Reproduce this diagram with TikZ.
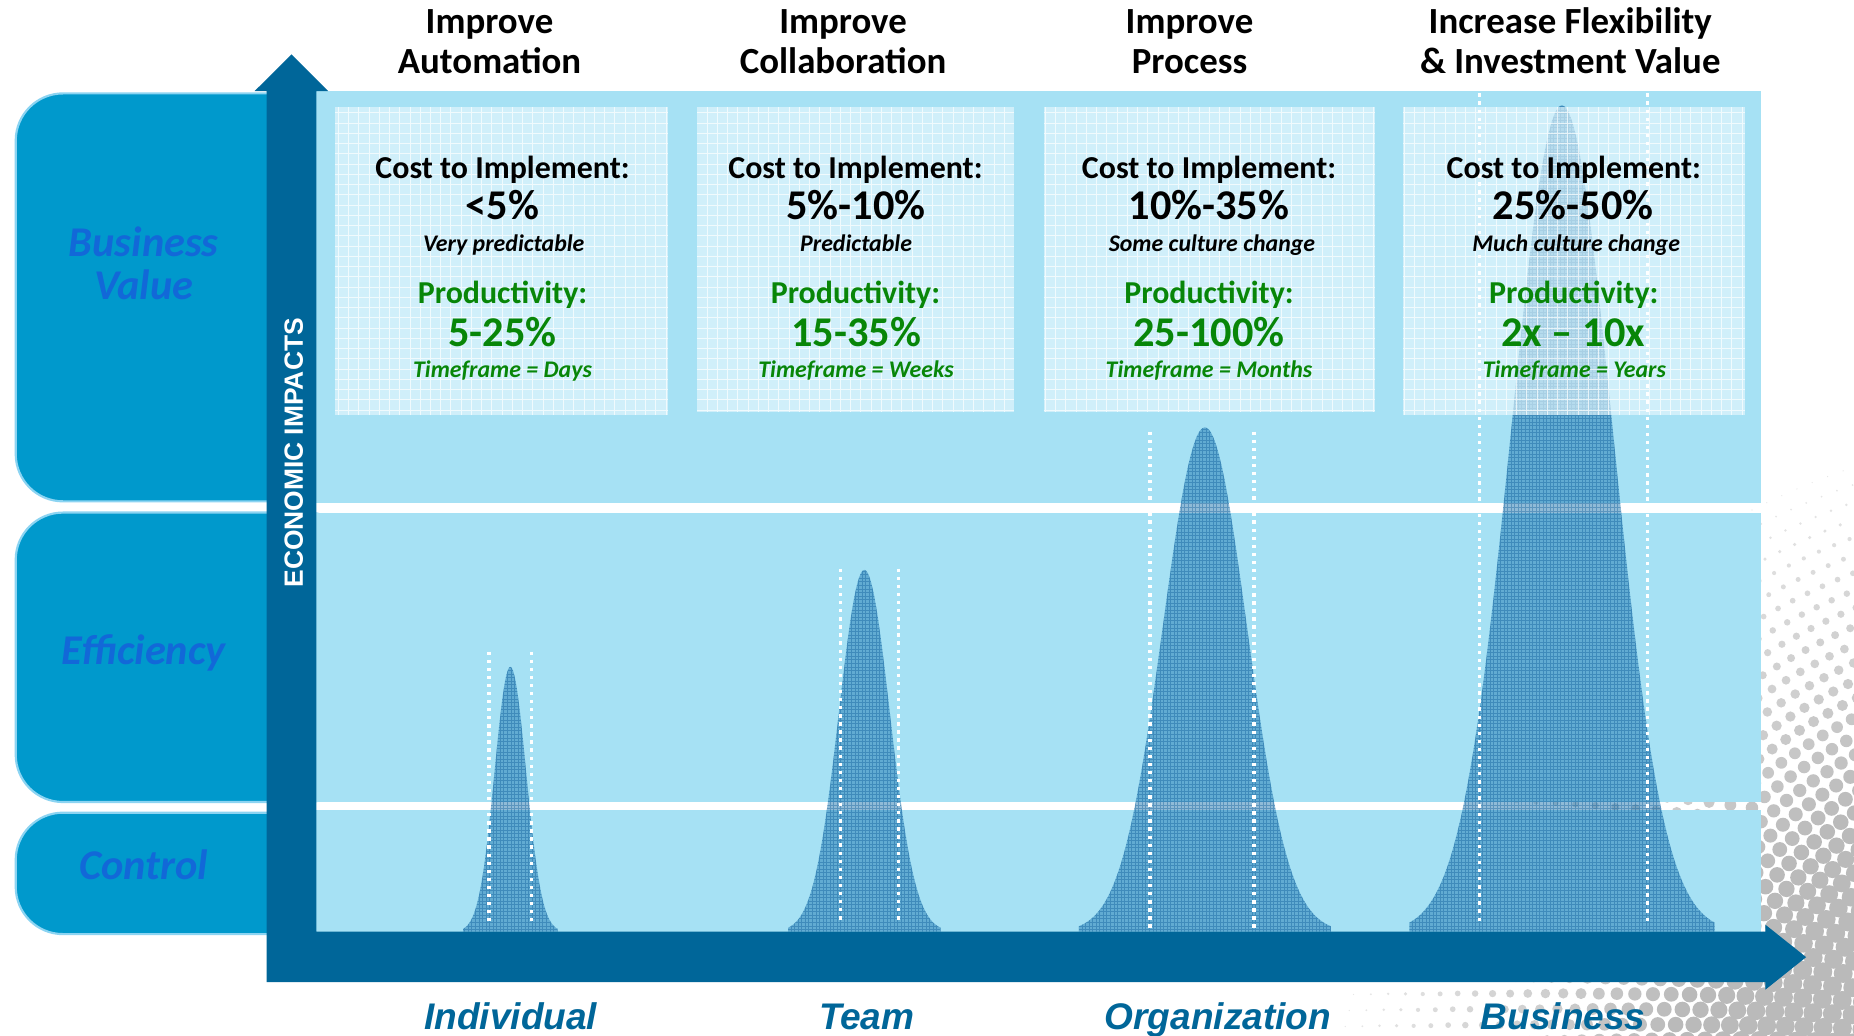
\documentclass[tikz,border=0pt]{standalone}
\usepackage{fontspec}
\setmainfont{Carlito}
\newfontfamily\arialf{Liberation Sans}
\definecolor{axisblue}{RGB}{0,102,153}
\definecolor{panelblue}{RGB}{166,225,244}
\definecolor{boxblue}{RGB}{0,153,204}
\definecolor{boxedge}{RGB}{140,212,242}
\definecolor{labelblue}{RGB}{18,104,216}
\definecolor{cardfill}{RGB}{234,249,254}
\definecolor{peakfill}{RGB}{20,112,172}
\definecolor{peakgrid}{RGB}{8,88,150}
\definecolor{prodgreen}{RGB}{8,134,8}
\newcommand\peakpath[3]{(#1-3*#2,788) -- plot[domain=-3:3,samples=91] ({#1+(\x)*#2},{788-#3*exp(-0.5*(\x)*(\x))}) -- (#1+3*#2,788) -- cycle}
\tikzset{
  leftbox/.style={fill=boxblue,draw=boxedge,line width=1.1pt,rounded corners=24pt},
  band/.style={fill=panelblue},
  cardbg/.style={fill=cardfill,fill opacity=0.62},
  cardgrid/.style={draw=white,line width=0.4pt,opacity=0.7,step=5.2pt},
  dotline/.style={draw=white,line width=1.7pt,dash pattern=on 1.7pt off 2.4pt},
  txt/.style={anchor=base,inner sep=0pt},
  hdr/.style={txt,font=\fontsize{18.7}{20}\selectfont\bfseries},
  cost/.style={txt,font=\fontsize{16.2}{18}\selectfont\bfseries},
  pct/.style={txt,font=\fontsize{21.5}{24}\selectfont\bfseries},
  note/.style={txt,font=\fontsize{12.1}{14}\selectfont\bfseries\itshape},
  prod/.style={cost,text=prodgreen},
  prodval/.style={pct,text=prodgreen},
  tframe/.style={note,text=prodgreen},
  sidelbl/.style={txt,font=\fontsize{21.5}{24}\selectfont\bfseries\itshape,text=labelblue},
  axlbl/.style={txt,font=\arialf\fontsize{18.8}{22}\selectfont\bfseries\itshape,text=axisblue},
}
\begin{document}
\begin{tikzpicture}[x=0.6pt,y=-0.6pt]
\useasboundingbox (0,0) rectangle (1568,876);
\clip (0,0) rectangle (1568,876);
\fill[white] (0,0) rectangle (1568,876);
% halftone dots
\foreach \k in {0,...,30}{
  \pgfmathsetmacro\rr{660-14*\k}
  \pgfmathsetmacro\dd{min(8,0.5+0.32*\k)}
  \pgfmathtruncatemacro\gg{min(27,10+0.9*\k)}
  \pgfmathtruncatemacro\nn{\rr*1.45/14}
  \pgfmathsetmacro\da{14/\rr*57.2958}
  \pgfmathsetmacro\off{mod(\k,2)*0.5}
  \foreach \j in {0,...,\nn}{
    \fill[black!\gg] ({1780+\rr*cos(95+(\j+\off)*\da)},{1020-\rr*sin(95+(\j+\off)*\da)}) circle[radius=\dd];
  }
}
% left boxes
\draw[leftbox] (13.3,79) rectangle (300,424);
\draw[leftbox] (13.3,433.5) rectangle (300,678.3);
\draw[leftbox] (13.3,687.3) rectangle (300,790);
% bands
\fill[band] (250,76.7) rectangle (1489.6,425.8);
\fill[band] (250,433.6) rectangle (1489.6,678.5);
\fill[band] (250,685.4) rectangle (1489.6,788);
% peaks
\foreach \c/\s/\h in {431.6/13.3/224, 731/21.5/306, 1019/35.5/426.6, 1321/43/699}{
  \begin{scope}
    \clip \peakpath{\c}{\s}{\h};
    \fill[peakfill,fill opacity=0.47] (\c-3*\s-5,60) rectangle (\c+3*\s+5,790);
    \draw[peakgrid,line width=0.3pt,opacity=0.38,xstep=1.8pt,ystep=1.8pt] (\c-3*\s-5,60) grid (\c+3*\s+5,790);
  \end{scope}
}
% cards
\foreach \xa/\ya/\xb/\yb in {283.7/90.8/565.3/351, 589.5/90.8/857.9/348.8, 882.6/90.8/1162.6/348.3, 1186.6/90.8/1475.5/351}{
  \fill[cardbg] (\xa,\ya) rectangle (\xb,\yb);
  \draw[cardgrid] (\xa,\ya) grid (\xb,\yb);
}
% dotted guide lines
\draw[dotline] (413.6,551) -- (413.6,782);
\draw[dotline] (449.7,551) -- (449.7,782);
\draw[dotline] (711,481) -- (711,781);
\draw[dotline] (760,481) -- (760,781);
\draw[dotline] (972.5,365) -- (972.5,786);
\draw[dotline] (1060.5,365) -- (1060.5,786);
\draw[dotline] (1251,79) -- (1251,779);
\draw[dotline] (1393.5,79) -- (1393.5,779);
% axes
\fill[axisblue] (246.5,46) -- (277.6,77) -- (267.5,77) -- (267.5,788) -- (1493,788) -- (1493,782) -- (1527.5,809.5) -- (1493,837) -- (1493,830.7) -- (225.4,830.7) -- (225.4,77) -- (215.4,77) -- cycle;
\node[rotate=90,inner sep=0pt,font=\arialf\fontsize{13.4}{16}\selectfont\bfseries,text=white] (econ) at (248.5,383) {ECONOMIC IMPACTS};
% side labels
\node[sidelbl] (bv1) at (121.5,217) {Business};
\node[sidelbl] (bv2) at (121.5,253.7) {Value};
\node[sidelbl] (eff) at (121.5,562) {Efficiency};
\node[sidelbl] (ctl) at (121.5,743.4) {Control};
% headers
\node[hdr] (h1a) at (414,28.5) {Improve};
\node[hdr] (h1b) at (414,62.5) {Automation};
\node[hdr] (h2a) at (713,28.5) {Improve};
\node[hdr] (h2b) at (713,62.5) {Collaboration};
\node[hdr] (h3a) at (1006,28.5) {Improve};
\node[hdr] (h3b) at (1006,62.5) {Process};
\node[hdr] (h4a) at (1328,28.5) {Increase Flexibility};
\node[hdr] (h4b) at (1328,62.5) {\& Investment Value};
% card texts
\node[cost] (c1a) at (425,150.8) {Cost to Implement:};
\node[pct] (c1b) at (425,186) {<5\%};
\node[note] (c1c) at (426,212.8) {Very predictable};
\node[prod] (c1d) at (425,257.1) {Productivity:};
\node[prodval] (c1e) at (425,293.2) {5-25\%};
\node[tframe] (c1f) at (425,319.4) {Timeframe = Days};
\node[cost] (c2a) at (723.5,150.8) {Cost to Implement:};
\node[pct] (c2b) at (724,186) {5\%-10\%};
\node[note] (c2c) at (724,212.8) {Predictable};
\node[prod] (c2d) at (723.5,257.1) {Productivity:};
\node[prodval] (c2e) at (724,293.2) {15-35\%};
\node[tframe] (c2f) at (724,319.4) {Timeframe = Weeks};
\node[cost] (c3a) at (1022.5,150.8) {Cost to Implement:};
\node[pct] (c3b) at (1022.5,186) {10\%-35\%};
\node[note] (c3c) at (1025,212.8) {Some culture change};
\node[prod] (c3d) at (1022.5,257.1) {Productivity:};
\node[prodval] (c3e) at (1022.5,293.2) {25-100\%};
\node[tframe] (c3f) at (1022.5,319.4) {Timeframe = Months};
\node[cost] (c4a) at (1331,150.8) {Cost to Implement:};
\node[pct] (c4b) at (1330.5,186) {25\%-50\%};
\node[note] (c4c) at (1333,212.8) {Much culture change};
\node[prod] (c4d) at (1331,257.1) {Productivity:};
\node[prodval] (c4e) at (1330.5,293.2) {2x – 10x};
\node[tframe] (c4f) at (1331.5,319.4) {Timeframe = Years};
% axis labels
\node[axlbl] (xl1) at (432,871) {Individual};
\node[axlbl] (xl2) at (733,871) {Team};
\node[axlbl] (xl3) at (1030,871) {Organization};
\node[axlbl] (xl4) at (1322,871) {Business};
\end{tikzpicture}
\end{document}
